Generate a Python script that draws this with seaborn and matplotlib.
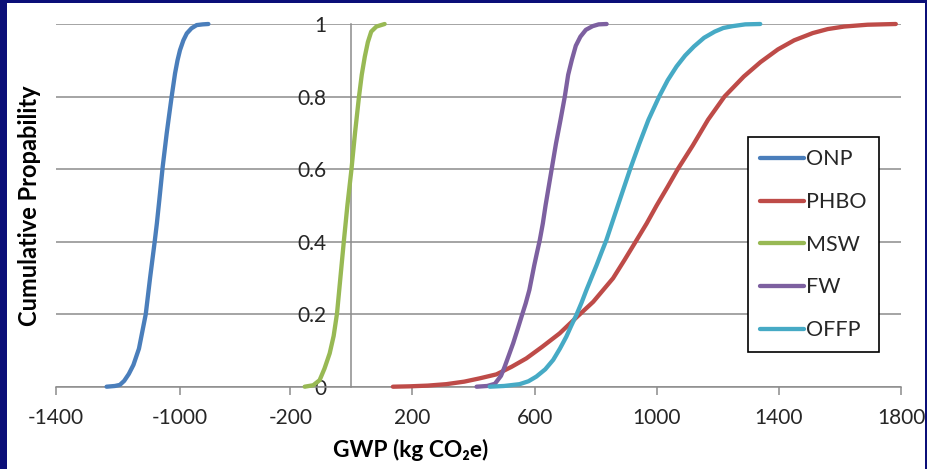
import numpy as np
import pandas as pd
import matplotlib
matplotlib.use("Agg")
import matplotlib.pyplot as plt
from matplotlib.patches import Rectangle
from matplotlib.lines import Line2D
import seaborn as sns

# ---------------- data ----------------
series_names = ["ONP", "PHBO", "MSW", "FW", "OFFP"]
series_colors = ["#4A7EBB", "#BE4B48", "#98B954", "#7D60A0", "#46AAC5"]

onp_x = [-1237, -1210, -1194, -1180, -1165, -1150, -1132, -1110, -1096, -1081,
         -1074, -1066, -1055, -1042, -1034, -1026, -1015, -1007, -999, -988,
         -977, -962, -945, -925, -907]
onp_p = [0, 0.002, 0.005, 0.016, 0.035, 0.06, 0.105, 0.2, 0.3, 0.4,
         0.45, 0.515, 0.607, 0.699, 0.75, 0.8, 0.864, 0.9, 0.928, 0.955,
         0.974, 0.988, 0.997, 0.999, 1.0]

phbo_x = [136, 190, 250, 311, 370, 420, 475, 525, 573, 625, 682, 737, 792, 857,
          895, 934, 967, 1000, 1035, 1069, 1118, 1168, 1222, 1285, 1340, 1397,
          1450, 1511, 1560, 1614, 1690, 1783]
phbo_p = [0, 0.001, 0.003, 0.007, 0.014, 0.023, 0.034, 0.055, 0.078, 0.11, 0.147,
          0.191, 0.234, 0.299, 0.35, 0.404, 0.45, 0.5, 0.55, 0.6, 0.665, 0.736,
          0.8, 0.855, 0.895, 0.93, 0.955, 0.975, 0.986, 0.993, 0.998, 1.0]

msw_x = [-153, -125, -104, -88, -71, -58, -47, -36, -25, -13, 0, 12, 25, 34, 44,
         54, 65, 82, 109]
msw_p = [0, 0.004, 0.018, 0.05, 0.092, 0.14, 0.202, 0.3, 0.398, 0.5, 0.597, 0.7,
         0.8, 0.86, 0.91, 0.95, 0.979, 0.993, 1.0]

fw_x = [410, 445, 470, 490, 502, 515, 530, 545, 559, 571, 583, 599, 608, 617, 627,
        636, 646, 656, 670, 685, 699, 710, 722, 735, 750, 768, 790, 810, 836]
fw_p = [0, 0.002, 0.008, 0.03, 0.055, 0.085, 0.12, 0.16, 0.198, 0.23, 0.267, 0.335,
        0.37, 0.404, 0.45, 0.5, 0.55, 0.6, 0.67, 0.736, 0.8, 0.86, 0.901, 0.94,
        0.965, 0.984, 0.994, 0.999, 1.0]

offp_x = [453, 500, 551, 580, 606, 635, 661, 683, 704, 720, 737, 754, 770, 786,
          803, 819, 835, 854, 873, 893, 913, 943, 973, 1008, 1036, 1065, 1093,
          1122, 1155, 1190, 1218, 1248, 1290, 1339]
offp_p = [0, 0.002, 0.007, 0.015, 0.028, 0.048, 0.074, 0.105, 0.138, 0.168, 0.198,
          0.232, 0.267, 0.3, 0.335, 0.37, 0.404, 0.452, 0.5, 0.55, 0.6, 0.67,
          0.736, 0.8, 0.845, 0.883, 0.913, 0.938, 0.962, 0.979, 0.989, 0.994,
          0.999, 1.0]

xtick_values = [-1400, -1000, -200, 200, 600, 1000, 1400, 1800]
xtick_labels = ["-1400", "-1000", "-200", "200", "600", "1000", "1400", "1800"]
ytick_values = [0, 0.2, 0.4, 0.6, 0.8, 1.0]
ytick_labels = ["0", "0.2", "0.4", "0.6", "0.8", "1"]

frames = []
for name, xs, ps in zip(series_names,
                        [onp_x, phbo_x, msw_x, fw_x, offp_x],
                        [onp_p, phbo_p, msw_p, fw_p, offp_p]):
    frames.append(pd.DataFrame({"GWP": xs, "p": ps, "series": name}))
df = pd.concat(frames, ignore_index=True)

# ---------------- style ----------------
sns.set_theme(style="white")
plt.rcParams["font.family"] = ["Lato", "DejaVu Sans"]
plt.rcParams["axes.unicode_minus"] = False

W, H = 928, 469
fig = plt.figure(figsize=(W / 100, H / 100), dpi=100)
fig.patch.set_facecolor("#0b0f78")
fig.patches.append(Rectangle((7 / W, 0), (925 - 7) / W, 466 / H,
                             transform=fig.transFigure, facecolor="white",
                             edgecolor="none", zorder=-10))

ax = fig.add_axes([56.3 / W, (H - 386.7) / H, 844.7 / W, 362.7 / H])
ax.set_zorder(1)
ax.patch.set_alpha(0)

# broken-looking axis of the original: piecewise linear scale
BRK_V = np.array([-1400.0, -880.0, -200.0, 1800.0])
BRK_P = np.array([56.3, 216.7, 290.3, 901.0])
S0 = (BRK_P[1] - BRK_P[0]) / (BRK_V[1] - BRK_V[0])
S1 = (BRK_P[3] - BRK_P[2]) / (BRK_V[3] - BRK_V[2])


def fwd(v):
    v = np.asarray(v, dtype=float)
    out = np.interp(v, BRK_V, BRK_P)
    out = np.where(v < BRK_V[0], BRK_P[0] + (v - BRK_V[0]) * S0, out)
    out = np.where(v > BRK_V[-1], BRK_P[-1] + (v - BRK_V[-1]) * S1, out)
    return out


def inv(p):
    p = np.asarray(p, dtype=float)
    out = np.interp(p, BRK_P, BRK_V)
    out = np.where(p < BRK_P[0], BRK_V[0] + (p - BRK_P[0]) / S0, out)
    out = np.where(p > BRK_P[-1], BRK_V[-1] + (p - BRK_P[-1]) / S1, out)
    return out


ax.set_xscale("function", functions=(fwd, inv))

sns.lineplot(data=df, x="GWP", y="p", hue="series", hue_order=series_names,
             palette=series_colors, linewidth=3.1, estimator=None, legend=False,
             ax=ax)
for ln in ax.lines:
    ln.set_clip_on(False)
    ln.set_solid_capstyle("round")
    ln.set_solid_joinstyle("round")
    ln.set_zorder(3)

ax.set_xlim(-1400, 1800)
ax.set_ylim(0, 1)
ax.set_xticks(xtick_values)
ax.set_xticklabels(xtick_labels)
ax.set_yticks(ytick_values)
ax.set_yticklabels(ytick_labels)
ax.minorticks_off()
ax.set_xlabel("")
ax.set_ylabel("")

ax.yaxis.grid(True, color="#8c8c8c", linewidth=1.1)
ax.xaxis.grid(False)
ax.set_axisbelow(True)

for s in ["top", "right"]:
    ax.spines[s].set_visible(False)
ax.spines["left"].set_position(("data", 0))
ax.spines["left"].set_color("#8c8c8c")
ax.spines["left"].set_linewidth(1.1)
ax.spines["bottom"].set_color("#8c8c8c")
ax.spines["bottom"].set_linewidth(1.1)

ax.tick_params(axis="y", length=0, pad=18, labelsize=15, labelcolor="#262626")
ax.tick_params(axis="x", length=6, width=1.1, color="#8c8c8c", direction="out",
               pad=9, labelsize=15, labelcolor="#262626", bottom=True)

handles = [Line2D([], [], color=c, lw=3.1, solid_capstyle="round") for c in series_colors]
leg = ax.legend(handles, series_names, loc="upper left",
                bbox_to_anchor=(0.8185, 0.6876), borderaxespad=0,
                frameon=True, fancybox=False, framealpha=1, edgecolor="black",
                fontsize=15.5, handlelength=2.05, handletextpad=0.12,
                labelspacing=1.055, borderpad=0.56)
leg.get_frame().set_linewidth(1.2)
for t in leg.get_texts():
    t.set_color("#262626")

fig.text(30 / W, 1 - 206 / H, "Cumulative Propability", rotation=90,
         ha="center", va="center", fontsize=17, fontweight="bold", color="black")
fig.text(411 / W, 1 - 450 / H, "GWP (kg CO\u2082e)", ha="center", va="center",
         fontsize=16.4, fontweight="bold", color="black")

fig.savefig("out.png", dpi=100, facecolor=fig.get_facecolor())
